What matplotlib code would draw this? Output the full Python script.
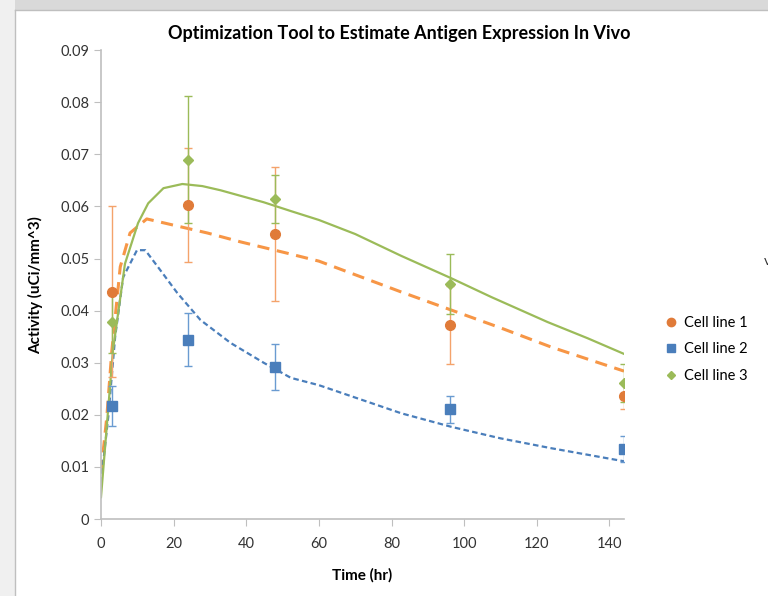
import matplotlib
matplotlib.use("Agg")
import matplotlib.pyplot as plt
from matplotlib.patches import Rectangle
from matplotlib.lines import Line2D
import numpy as np

plt.rcParams['font.family'] = ['Lato', 'DejaVu Sans']

# Observed data
t_obs = [3, 24, 48, 96, 144]
cl1 = [0.0436, 0.0603, 0.0547, 0.0372, 0.0236]
cl1_err = [0.0164, 0.0110, 0.0128, 0.0075, 0.0025]
cl2 = [0.0217, 0.0344, 0.0292, 0.0211, 0.0134]
cl2_err = [0.0038, 0.0051, 0.0044, 0.0026, 0.0025]
cl3 = [0.0378, 0.0690, 0.0614, 0.0451, 0.0261]
cl3_err = [0.0060, 0.0122, 0.0046, 0.0057, 0.0037]
labels = ['Cell line 1', 'Cell line 2', 'Cell line 3']

# Model curves
t1 = [0, 1.6, 3, 5.3, 8, 12.6, 20, 29.3, 38.4, 51.4, 60, 82.6, 96.5, 110, 124, 144]
m1 = [0.0090, 0.0196, 0.0324, 0.0484, 0.0549, 0.0576, 0.0564, 0.0549, 0.0532, 0.0510,
      0.0495, 0.0436, 0.0401, 0.0367, 0.0330, 0.0284]
t2 = [0, 2, 3.9, 6.1, 9.9, 12.2, 16.3, 21, 27.4, 35.7, 44.8, 52.3, 60, 82.7, 96.5, 110, 124, 144]
m2 = [0.0070, 0.0196, 0.0350, 0.0464, 0.0516, 0.0516, 0.0478, 0.0434, 0.0382, 0.0338,
      0.0300, 0.0271, 0.0257, 0.0203, 0.0177, 0.0155, 0.0136, 0.0111]
t3 = [0, 3.3, 6.6, 10.2, 13, 17.2, 22.4, 27.9, 32.9, 44.8, 52.3, 60, 70, 82.7, 96.5, 107.5, 123, 134, 144]
m3 = [0.0042, 0.0324, 0.0490, 0.0568, 0.0606, 0.0635, 0.0643, 0.0639, 0.0631, 0.0608,
      0.0591, 0.0574, 0.0547, 0.0505, 0.0462, 0.0426, 0.0378, 0.0347, 0.0317]

c_orange_line = '#F79646'
c_orange_mk = '#E07B39'
c_blue = '#4A7EBB'
c_green = '#9BBB59'

fig = plt.figure(figsize=(7.68, 5.96), dpi=100)
# background frame
fig.patches.append(Rectangle((0, 0.983), 1, 0.017, transform=fig.transFigure,
                             facecolor='#D9D9D9', edgecolor='none', zorder=0))
fig.patches.append(Rectangle((0, 0), 0.02, 1, transform=fig.transFigure,
                             facecolor='#F0F0F0', edgecolor='none', zorder=0))
fig.add_artist(Line2D([0.02, 0.02], [0, 0.983], transform=fig.transFigure,
                      color='#BFBFBF', lw=1))
fig.add_artist(Line2D([0.02, 1], [0.983, 0.983], transform=fig.transFigure,
                      color='#BFBFBF', lw=1))

ax = fig.add_axes([0.1315, 0.129, 0.6810, 0.787])

ax.plot(t1, m1, color=c_orange_line, lw=2.2, ls=(0, (4, 2.5)), zorder=2)
ax.plot(t2, m2, color=c_blue, lw=1.6, ls=(0, (2.5, 1.5)), zorder=2)
ax.plot(t3, m3, color=c_green, lw=1.6, ls='-', zorder=2)

ax.errorbar(t_obs, cl1, yerr=cl1_err, fmt='o', color=c_orange_mk, ecolor='#F4A36B',
            ms=7, capsize=3, elinewidth=1, capthick=1, zorder=3)
ax.errorbar(t_obs, cl2, yerr=cl2_err, fmt='s', color=c_blue, ecolor='#6A9BD1',
            ms=7, capsize=3, elinewidth=1, capthick=1, zorder=3)
ax.errorbar(t_obs, cl3, yerr=cl3_err, fmt='D', color=c_green, ecolor=c_green,
            ms=5, capsize=3, elinewidth=1, capthick=1, zorder=3)

ax.set_xlim(0, 144)
ax.set_ylim(0, 0.09)
ax.set_xticks(np.arange(0, 141, 20))
ax.set_yticks(np.arange(0, 0.0901, 0.01))
ax.set_yticklabels(['0'] + ['%.2f' % v for v in np.arange(0.01, 0.0901, 0.01)])
for s in ['top', 'right']:
    ax.spines[s].set_visible(False)
for s in ['left', 'bottom']:
    ax.spines[s].set_color('#BFBFBF')
    ax.spines[s].set_linewidth(1.2)
ax.tick_params(axis='both', colors='#BFBFBF', labelcolor='#333333', labelsize=10.5,
               length=5, direction='out')
ax.tick_params(axis='x', pad=8)

ax.set_xlabel('Time (hr)', fontsize=11, fontweight='bold', labelpad=12)
ax.set_ylabel('Activity (uCi/mm^3)', fontsize=11, fontweight='bold', labelpad=12)
ax.set_title('Optimization Tool to Estimate Antigen Expression In Vivo', fontsize=13,
             fontweight='bold', pad=8, x=0.57)

handles = [Line2D([], [], ls='none', marker='o', color=c_orange_mk, ms=6),
           Line2D([], [], ls='none', marker='s', color=c_blue, ms=6),
           Line2D([], [], ls='none', marker='D', color=c_green, ms=4.5)]
leg = ax.legend(handles, labels, loc='center left', bbox_to_anchor=(1.043, 0.362),
                frameon=False, fontsize=10.5, handletextpad=0.15, labelspacing=0.85,
                handlelength=1.5)

fig.text(0.995, 0.555, 'v', fontsize=10, color='#333333', ha='left')

fig.savefig('out.png', dpi=100)
